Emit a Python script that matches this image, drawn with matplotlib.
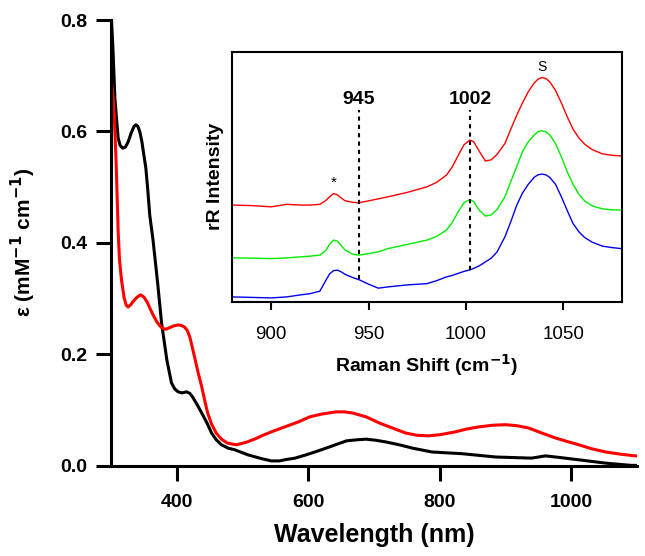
import numpy as np
import matplotlib.pyplot as plt

plt.rcParams['font.family'] = ['Liberation Sans', 'DejaVu Sans']

# UV-vis absorption (main panel)
wl_black = [300, 303, 306, 309, 311, 314, 318, 322, 326, 331, 335, 338, 341, 344, 347,
            350, 353, 356, 359, 364, 371, 377, 385, 392, 397, 402, 408, 415, 420, 424,
            431, 438, 446, 453, 460, 468, 478, 488, 508, 529, 544, 556, 564, 580, 597,
            615, 632, 658, 675, 688, 703, 718, 738, 758, 788, 833, 885, 939, 950, 955,
            961, 968, 976, 1011, 1052, 1091, 1100]
eps_black = [0.82, 0.75, 0.66, 0.615, 0.588, 0.575, 0.570, 0.572, 0.581, 0.598, 0.609,
             0.612, 0.609, 0.599, 0.582, 0.558, 0.535, 0.495, 0.450, 0.405, 0.328, 0.256,
             0.190, 0.149, 0.138, 0.133, 0.131, 0.133, 0.130, 0.124, 0.110, 0.095, 0.077,
             0.059, 0.047, 0.038, 0.032, 0.029, 0.020, 0.013, 0.009, 0.009, 0.011, 0.014,
             0.020, 0.027, 0.034, 0.045, 0.047, 0.048, 0.046, 0.043, 0.038, 0.032, 0.025,
             0.022, 0.016, 0.014, 0.016, 0.017, 0.018, 0.017, 0.016, 0.011, 0.005, 0.001,
             0.001]

wl_red = [300, 303, 305, 308, 311, 313, 316, 320, 323, 326, 330, 333, 336, 340, 345,
          350, 355, 360, 364, 370, 377, 383, 389, 395, 402, 407, 412, 416, 420, 427,
          432, 438, 443, 447, 453, 460, 468, 477, 485, 491, 498, 507, 520, 533, 548,
          564, 585, 602, 620, 642, 655, 667, 688, 708, 728, 748, 765, 783, 800, 823,
          840, 859, 880, 900, 918, 935, 955, 976, 993, 1011, 1030, 1052, 1075, 1097, 1100]
eps_red = [0.696, 0.665, 0.630, 0.540, 0.420, 0.370, 0.334, 0.302, 0.289, 0.285, 0.289,
           0.294, 0.298, 0.303, 0.307, 0.303, 0.294, 0.281, 0.271, 0.258, 0.248, 0.245,
           0.248, 0.251, 0.253, 0.252, 0.249, 0.243, 0.231, 0.196, 0.170, 0.142, 0.115,
           0.095, 0.075, 0.059, 0.048, 0.041, 0.039, 0.038, 0.040, 0.043, 0.049, 0.056,
           0.063, 0.070, 0.079, 0.088, 0.093, 0.097, 0.097, 0.095, 0.088, 0.077, 0.068,
           0.059, 0.055, 0.054, 0.056, 0.061, 0.066, 0.070, 0.073, 0.074, 0.072, 0.068,
           0.059, 0.050, 0.044, 0.038, 0.031, 0.025, 0.021, 0.018, 0.018]

# resonance Raman spectra (inset), arbitrary intensity units
rs_shift = [880, 890, 900, 908, 915, 920, 925, 928, 930, 932, 934, 936, 938, 942, 945,
            950, 955, 960, 970, 980, 985, 990, 993, 996, 999, 1002, 1004, 1007, 1010,
            1013, 1016, 1020, 1023, 1026, 1029, 1032, 1035, 1037, 1039, 1041, 1043,
            1046, 1049, 1052, 1055, 1058, 1061, 1065, 1070, 1075, 1080]
rr_red = [0.387, 0.385, 0.380, 0.390, 0.387, 0.387, 0.390, 0.405, 0.420, 0.433, 0.428,
          0.415, 0.404, 0.398, 0.396, 0.404, 0.412, 0.420, 0.438, 0.460, 0.478, 0.507,
          0.540, 0.585, 0.628, 0.647, 0.640, 0.600, 0.563, 0.568, 0.590, 0.633, 0.690,
          0.745, 0.795, 0.840, 0.875, 0.890, 0.897, 0.893, 0.880, 0.845, 0.795, 0.740,
          0.690, 0.655, 0.630, 0.608, 0.592, 0.586, 0.583]
rr_green = [0.176, 0.175, 0.173, 0.176, 0.180, 0.183, 0.187, 0.205, 0.230, 0.247, 0.243,
            0.225, 0.207, 0.190, 0.187, 0.193, 0.200, 0.213, 0.230, 0.247, 0.262, 0.287,
            0.318, 0.360, 0.397, 0.409, 0.400, 0.365, 0.343, 0.348, 0.370, 0.420, 0.480,
            0.540, 0.600, 0.640, 0.667, 0.680, 0.684, 0.680, 0.668, 0.632, 0.580, 0.520,
            0.470, 0.430, 0.403, 0.383, 0.372, 0.368, 0.367]
rr_blue = [0.020, 0.018, 0.016, 0.020, 0.028, 0.033, 0.043, 0.085, 0.112, 0.125, 0.127,
           0.120, 0.110, 0.097, 0.089, 0.071, 0.055, 0.060, 0.068, 0.073, 0.085, 0.100,
           0.106, 0.114, 0.122, 0.128, 0.134, 0.145, 0.160, 0.175, 0.200, 0.260, 0.320,
           0.385, 0.435, 0.470, 0.498, 0.508, 0.511, 0.508, 0.498, 0.470, 0.420, 0.365,
           0.313, 0.280, 0.257, 0.238, 0.223, 0.217, 0.213]

marks = [945, 1002]

fig = plt.figure(figsize=(6.45, 5.56), dpi=100)
ax = fig.add_axes([0.172, 0.162, 0.816, 0.802])

ax.plot(wl_black, eps_black, color='black', lw=2.2)
ax.plot(wl_red, eps_red, color='#ff0000', lw=2.2)
ax.set_xlim(300, 1100)
ax.set_ylim(0, 0.8)
ax.set_xticks([400, 600, 800, 1000])
ax.set_yticks([0.0, 0.2, 0.4, 0.6, 0.8])
ax.set_yticklabels(['0.0', '0.2', '0.4', '0.6', '0.8'])
for s in ['top', 'right']:
    ax.spines[s].set_visible(False)
for s in ['left', 'bottom']:
    ax.spines[s].set_linewidth(2.2)
ax.tick_params(direction='out', length=11, width=2.2, labelsize=14)
ax.tick_params(axis='x', pad=9)
ax.tick_params(axis='y', pad=6)
for lab in ax.get_xticklabels() + ax.get_yticklabels():
    lab.set_fontweight('bold')
ax.set_xlabel('Wavelength (nm)', fontsize=18, fontweight='bold', labelpad=9)
ax.set_ylabel(r'ε (mM$^{\mathbf{-1}}$ cm$^{\mathbf{-1}}$)', fontsize=15,
              fontweight='bold', labelpad=16)

# inset
ins = fig.add_axes([0.360, 0.457, 0.604, 0.450])
ins.plot(rs_shift, rr_red, color='#ff0000', lw=1.0)
ins.plot(rs_shift, rr_green, color='#00ee00', lw=1.0)
ins.plot(rs_shift, rr_blue, color='#0000ee', lw=1.0)
ins.set_xlim(880, 1080)
ins.set_ylim(0, 1)
ins.set_xticks([900, 950, 1000, 1050])
ins.set_yticks([])
for s in ins.spines.values():
    s.set_linewidth(1.5)
ins.tick_params(axis='x', direction='out', length=6, width=1.5, labelsize=13.5, pad=11)
ins.set_xlabel(r'Raman Shift (cm$^{\mathbf{-1}}$)', fontsize=14, fontweight='bold', labelpad=7)
ins.set_ylabel('rR Intensity', fontsize=14, fontweight='bold', labelpad=6)

ins.vlines(marks[0], 0.093, 0.767, colors='black', linestyles=(0, (2, 2)), lw=1.5)
ins.vlines(marks[1], 0.127, 0.767, colors='black', linestyles=(0, (2, 2)), lw=1.5)
for m in marks:
    ins.text(m, 0.775, str(m), ha='center', va='bottom', fontsize=14, fontweight='bold')
ins.text(932, 0.45, '*', ha='center', va='bottom', fontsize=11)
ins.text(1039, 0.91, 'S', ha='center', va='bottom', fontsize=10)

fig.savefig('out.png', dpi=100)
